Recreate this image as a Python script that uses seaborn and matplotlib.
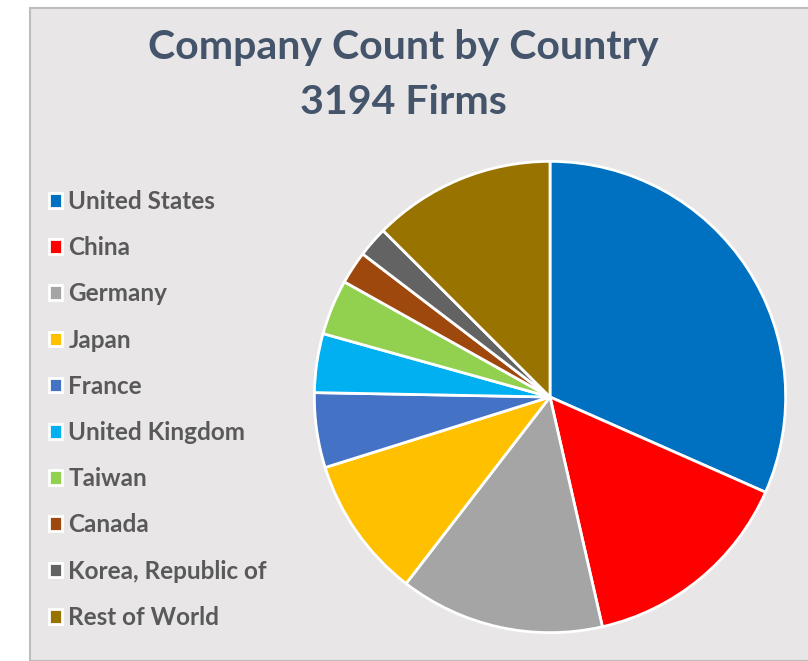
import seaborn as sns
import matplotlib.pyplot as plt
from matplotlib.patches import Rectangle

countries = ["United States", "China", "Germany", "Japan", "France",
             "United Kingdom", "Taiwan", "Canada", "Korea, Republic of", "Rest of World"]
firms = [1010, 473, 448, 310, 164, 129, 121, 72, 67, 400]
colors = ["#0070C0", "#FF0000", "#A5A5A5", "#FFC000", "#4472C4",
          "#00B0F0", "#92D050", "#9E480E", "#636363", "#997300"]
total = sum(firms)

sns.set_style("white")
plt.rcParams["font.family"] = ["Lato", "DejaVu Sans"]

W, H = 808, 661
fig = plt.figure(figsize=(W / 100, H / 100), dpi=100, facecolor="white")

# chart area panel (screenshot frame)
fig.patches.append(Rectangle((30 / W, 0), 1, (H - 8) / H, transform=fig.transFigure,
                             facecolor="#E8E6E6", edgecolor="#BDBDBD", linewidth=1.5, zorder=-5))

cx, cy, r = 550, 397, 238
ax = fig.add_axes([(cx - r) / W, (H - cy - r) / H, 2 * r / W, 2 * r / H])
ax.set_zorder(2)
ax.patch.set_alpha(0)
wedges, _ = ax.pie(firms, colors=sns.color_palette(colors), startangle=90, counterclock=False,
                   radius=1.0, wedgeprops=dict(edgecolor="white", linewidth=2))
ax.set_xlim(-1.01, 1.01)
ax.set_ylim(-1.01, 1.01)
ax.set_aspect("equal")
ax.axis("off")

fig.text(403 / W, 1 - 48 / H, "Company Count by Country", ha="center", va="center",
         fontsize=29.5, fontweight="bold", color="#44546A")
fig.text(403 / W, 1 - 102 / H, f"{total} Firms", ha="center", va="center",
         fontsize=29.5, fontweight="bold", color="#44546A")

leg = fig.legend(wedges, countries, loc="upper left", bbox_to_anchor=(27 / W, 1 - 168 / H),
                 frameon=False, fontsize=17.5, handlelength=0.55, handleheight=0.55,
                 handletextpad=0.25, labelspacing=0.955)
for t in leg.get_texts():
    t.set_color("#595959")
    t.set_fontweight("bold")

fig.savefig("out.png", dpi=100, facecolor=fig.get_facecolor())
